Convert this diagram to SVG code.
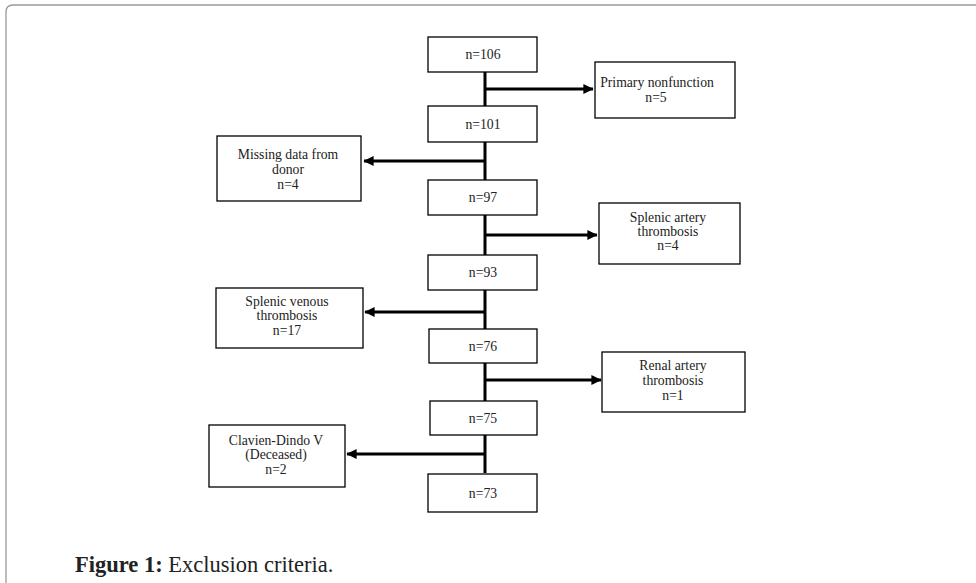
<svg xmlns="http://www.w3.org/2000/svg" width="976" height="583" viewBox="0 0 976 583">
<defs>
<style>
.box{fill:#fff;stroke:#000;stroke-width:1.3}
.t{font-family:"Liberation Serif","DejaVu Serif",serif;font-size:13.7px;fill:#222;text-anchor:middle}
.c{stroke:#000;stroke-width:3;fill:none}
.cap{font-family:"Liberation Serif","DejaVu Serif",serif;font-size:22.5px;fill:#222}
</style>
<marker id="ah" markerWidth="4" markerHeight="4" refX="3.2" refY="2" orient="auto" markerUnits="strokeWidth">
<path d="M0,0.3 L3.4,2 L0,3.7 z" fill="#000"/>
</marker>
</defs>
<rect width="976" height="583" fill="#fff"/>
<path d="M6,583 V12 Q6,5 13,5 H976" fill="none" stroke="#9a9a9a" stroke-width="1.3"/>
<g id="connectors">
<line class="c" x1="485" y1="72" x2="485" y2="473"/>
<line class="c" x1="485" y1="89" x2="593" y2="89" marker-end="url(#ah)"/>
<line class="c" x1="485" y1="161" x2="364" y2="161" marker-end="url(#ah)"/>
<line class="c" x1="485" y1="235" x2="597" y2="235" marker-end="url(#ah)"/>
<line class="c" x1="485" y1="312" x2="365" y2="312" marker-end="url(#ah)"/>
<line class="c" x1="485" y1="380" x2="601" y2="380" marker-end="url(#ah)"/>
<line class="c" x1="485" y1="454" x2="347" y2="454" marker-end="url(#ah)"/>
</g>
<g id="n106"><rect class="box" x="428" y="37" width="109" height="35"/><text class="t" x="483" y="59">n=106</text></g>
<g id="n101"><rect class="box" x="428" y="106" width="109" height="36"/><text class="t" x="483" y="129">n=101</text></g>
<g id="n97"><rect class="box" x="428" y="180" width="109" height="35"/><text class="t" x="483" y="202">n=97</text></g>
<g id="n93"><rect class="box" x="428" y="255" width="109" height="35"/><text class="t" x="483" y="277">n=93</text></g>
<g id="n76"><rect class="box" x="429" y="329" width="108" height="34"/><text class="t" x="483" y="351">n=76</text></g>
<g id="n75"><rect class="box" x="430" y="401" width="107" height="34"/><text class="t" x="483" y="423">n=75</text></g>
<g id="n73"><rect class="box" x="428" y="474" width="109" height="38"/><text class="t" x="483" y="498">n=73</text></g>
<g id="primary"><rect class="box" x="595" y="62" width="140" height="56"/><text class="t" x="657" y="87">Primary nonfunction</text><text class="t" x="656" y="102">n=5</text></g>
<g id="missing"><rect class="box" x="217" y="136" width="144" height="65"/><text class="t" x="288" y="159">Missing data from</text><text class="t" x="288" y="174">donor</text><text class="t" x="288" y="189">n=4</text></g>
<g id="splenicart"><rect class="box" x="599" y="203" width="141" height="61"/><text class="t" x="668" y="222">Splenic artery</text><text class="t" x="668" y="236">thrombosis</text><text class="t" x="668" y="250">n=4</text></g>
<g id="splenicven"><rect class="box" x="216" y="288" width="147" height="60"/><text class="t" x="287" y="306">Splenic venous</text><text class="t" x="287" y="320">thrombosis</text><text class="t" x="287" y="335">n=17</text></g>
<g id="renal"><rect class="box" x="602" y="352" width="143" height="60"/><text class="t" x="673" y="370">Renal artery</text><text class="t" x="673" y="385">thrombosis</text><text class="t" x="673" y="400">n=1</text></g>
<g id="clavien"><rect class="box" x="209" y="425" width="136" height="62"/><text class="t" x="276" y="445">Clavien-Dindo V</text><text class="t" x="276" y="459">(Deceased)</text><text class="t" x="276" y="474">n=2</text></g>
<text class="cap" x="75" y="572"><tspan font-weight="bold">Figure 1:</tspan> Exclusion criteria.</text>
</svg>
